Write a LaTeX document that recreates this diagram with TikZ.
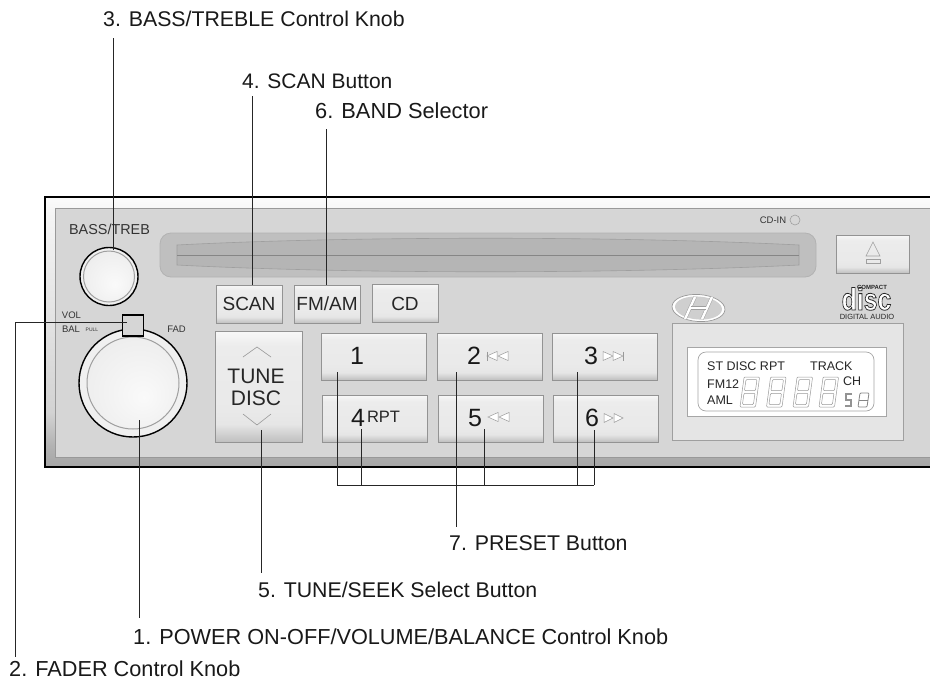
\documentclass[tikz,border=0pt]{standalone}
\usepackage{fontspec}
\setmainfont{Liberation Sans}
\usepackage{graphicx}
\usepackage{tikz}
\usetikzlibrary{arrows.meta,shapes.geometric}
\newcommand{\fs}[1]{\fontsize{#1}{#1}\selectfont}
\pgfdeclareverticalshading{btnshade}{100bp}{color(0bp)=(gray!50); color(25bp)=(gray!50); color(33bp)=(gray!20); color(40bp)=(gray!17); color(68bp)=(gray!15); color(75bp)=(gray!6); color(100bp)=(gray!6)}
\pgfdeclareverticalshading{bandshade}{100bp}{color(0bp)=(gray!70); color(25bp)=(gray!70); color(29bp)=(gray!60); color(35bp)=(gray!35); color(72bp)=(gray!8); color(75bp)=(gray!3); color(100bp)=(gray!3)}
\pgfdeclareradialshading{capshade}{\pgfpoint{6bp}{-8bp}}{color(0bp)=(gray!4); color(30bp)=(gray!14); color(50bp)=(gray!24)}

\begin{document}
\begin{tikzpicture}[
    x=1pt, y=-1pt,
    btn/.style     = {rectangle, draw=gray!85, line width=0.8pt, shading=btnshade, inner sep=0pt, text=black!85},
    lab/.style     = {font=\fs{#1}, text=black!90, inner sep=0pt, text height=15pt, text depth=0pt, anchor=west},
    small/.style   = {font=\fs{9.5}, text=black!80, inner sep=0pt},
    lcdtxt/.style  = {font=\fs{12.5}, text=black!85, inner sep=0pt, anchor=west},
    leader/.style  = {draw=black!85, line width=1pt},
    seg/.style     = {draw=gray!80, line width=0.5pt, rounded corners=1pt},
    tri/.style     = {draw=gray!80, fill=white, line width=0.5pt}
  ]
  \useasboundingbox (0,0) rectangle (930,681);

  % ===== Panel =====
  \fill[white] (0,0) rectangle (930,681);
  \shade[shading=bandshade] (45,197) rectangle (930,467);
  \draw[draw=gray!80, fill=gray!32, line width=0.8pt] (55,208) rectangle (932,457);
  \draw[line width=2pt] (931,197) -- (45,197) -- (45,467) -- (931,467);

  % ===== CD slot =====
  \draw[draw=gray!60, fill=gray!50, line width=0.8pt, rounded corners=11pt] (160,233) rectangle (816,277);
  \draw[draw=gray!75, line width=0.6pt, fill=gray!58] (177,245) .. controls (350,236) and (620,236) .. (799,245)
    -- (799,265) .. controls (620,274) and (350,274) .. (177,265) -- cycle;
  \draw[draw=gray!95, line width=1pt] (177,255) -- (799,255);

  % ===== Knobs =====
  \node[circle, draw=black, line width=1.4pt, fill=gray!12, minimum size=58pt, inner sep=0pt] (knobBass) at (109,276.5) {};
  \node[circle, draw=gray!75, line width=1pt, shading=capshade, minimum size=51pt, inner sep=0pt] (capBass) at (109,276.5) {};
  \node[circle, draw=black, line width=1.4pt, fill=gray!12, minimum size=108pt, inner sep=0pt] (knobVol) at (133,383) {};
  \node[circle, draw=gray!75, line width=1pt, shading=capshade, minimum size=92pt, inner sep=0pt] (capVol) at (133,383) {};
  \node[rectangle, draw=black, line width=1.2pt, fill=gray!32, minimum width=21pt, minimum height=21pt, inner sep=0pt] (sqFader) at (133,325.5) {};

  \node[small, font=\fs{14.4}] (txtBass) at (109.5,229) {BASS/TREB};
  \node[small] (txtVol) at (71.5,315) {VOL};
  \node[small] (txtBal) at (71,329) {BAL};
  \node[small, font=\fs{5}] (txtPull) at (92,330) {PULL};
  \node[small] (txtFad) at (176.5,329) {FAD};
  \node[small] (txtIn) at (773,220) {CD-IN};
  \node[circle, draw=gray!75, line width=0.6pt, minimum size=10pt, inner sep=0pt] (ledIn) at (795,220) {};

  % ===== Buttons =====
  \node[btn, minimum width=66pt, minimum height=38pt, font=\fs{19}] (btnScan) at (249,304) {SCAN};
  \node[btn, minimum width=66pt, minimum height=38pt, font=\fs{19}] (btnBand) at (327,304) {FM/AM};
  \node[btn, minimum width=66pt, minimum height=38pt, font=\fs{19}] (btnCd) at (405,303.5) {CD};
  \node[btn, minimum width=87pt, minimum height=111pt] (btnTune) at (258.5,386.5) {};
  \node[align=center, font=\fs{21}, text=black!85, inner sep=0pt] (txtTune) at (256,387.5) {TUNE\\[1pt]DISC};
  \node[btn, minimum width=73pt, minimum height=38pt] (btnEject) at (872.5,254) {};
  \draw[draw=gray!80, line width=0.6pt] (243,357) -- (257,347) -- (271,357);
  \draw[draw=gray!80, line width=0.6pt] (243,414) -- (257,425) -- (271,414);
  \draw[draw=gray!75, line width=0.6pt] (866,256) -- (873,242) -- (880,256) -- cycle;
  \draw[draw=gray!75, line width=0.6pt] (866,259) rectangle (880,263);

  \foreach \n/\x/\y in {1/373.5/356.5, 2/489.5/356.5, 3/604.5/356.5, 4/374.5/418.5, 5/490.5/418.5, 6/605.5/418.5}{
    \node[btn, minimum width=105pt, minimum height=47pt] (btn\n) at (\x,\y) {};
  }
  \foreach \n/\x/\y in {1/357/356, 2/474/356, 3/591/356, 4/358/418, 5/475/418, 6/592/418}{
    \node[font=\fs{25}, text=black!90, inner sep=0pt] (num\n) at (\x,\y) {\n};
  }
  \node[font=\fs{16.5}, text=black!85, inner sep=0pt] (txtRpt) at (383.5,417) {RPT};

  % track symbols
  \foreach \x in {487,498}{ \draw[tri] (\x,356) -- (\x+10,351.5) -- (\x+10,360.5) -- cycle; }
  \draw[tri] (487,351.5) -- (487,360.5);
  \foreach \x in {603,613}{ \draw[tri] (\x+10,356) -- (\x,351.5) -- (\x,360.5) -- cycle; }
  \draw[tri] (623,351.5) -- (623,360.5);
  \foreach \x in {488,499}{ \draw[tri] (\x,417) -- (\x+10,412.5) -- (\x+10,421.5) -- cycle; }
  \foreach \x in {604,614}{ \draw[tri] (\x+9,418) -- (\x,413.5) -- (\x,422.5) -- cycle; }

  % ===== Display =====
  \node[rectangle, draw=gray!75, line width=0.8pt, fill=gray!20, minimum width=231pt, minimum height=117pt] (lcdFrame) at (787.5,381.5) {};
  \node[rectangle, draw=gray!70, line width=0.8pt, fill=white, minimum width=199pt, minimum height=69pt] (lcdGlass) at (786.5,381.5) {};
  \node[rectangle, draw=gray!70, line width=0.7pt, rounded corners=8pt, minimum width=176pt, minimum height=59pt] (lcdInner) at (786,381.5) {};
  \node[lcdtxt] (lcdDisc) at (707,366.5) {ST DISC RPT};
  \node[lcdtxt] (lcdTrack) at (810,366.5) {TRACK};
  \node[lcdtxt] (lcdCh) at (843,381) {CH};
  \node[lcdtxt] (lcdFm) at (707,384) {FM12};
  \node[lcdtxt] (lcdAm) at (707,400) {AML};
  \foreach \x in {740,766.5,793,819}{
    \begin{scope}[shift={(\x,407)}]
      \draw[seg] (0,0) -- (15.5,0) -- (19.6,-30) -- (4.1,-30) -- cycle;
      \draw[seg] (2.4,-2.5) -- (13.4,-2.5) -- (15,-13.7) -- (4,-13.7) -- cycle;
      \draw[seg] (4.4,-16.3) -- (15.4,-16.3) -- (17,-27.5) -- (6,-27.5) -- cycle;
    \end{scope}
  }
  \begin{scope}[shift={(858,407)}]
    \draw[seg, draw=gray!95, line width=0.8pt] (0,0) -- (9,0) -- (11,-14) -- (2,-14) -- cycle;
    \draw[seg, draw=gray!95, line width=0.8pt] (1,-7) -- (10,-7);
  \end{scope}
  \draw[draw=gray!85, line width=1.2pt] (852,394) -- (846,394) -- (846,400) -- (851,400) -- (851,406) -- (845,406);

  % ===== Logos =====
  \node[ellipse, draw=gray!80, line width=0.7pt, fill=white, minimum width=53pt, minimum height=27pt, inner sep=0pt, rotate=-4] (logoOval) at (698.5,308) {};
  \fill[gray!38, rotate around={-4:(698.5,308)}] (698.5,308) ellipse [x radius=23.5, y radius=11.5];
  \draw[draw=gray!75, double=white, double distance=2.4pt, line width=0.5pt] (685,319) -- (695,297) (702,319) -- (712,297);
  \draw[draw=gray!75, double=white, double distance=2.4pt, line width=0.5pt] (691,308) -- (706,308);

  \node[font=\bfseries\fs{31}, inner sep=0pt, text=white, text height=19pt, text depth=0pt, anchor=base] (discBig) at (866.5,310) {\scalebox{0.8}[1]{\special{pdf:code 2 Tr 0.8 w 0.15 G}disc\special{pdf:code 0 Tr}}};
  \node[font=\bfseries\fs{6}, text=black!85, inner sep=0pt] (discTop) at (872,287.5) {COMPACT};
  \node[font=\fs{7.5}, text=black!85, inner sep=0pt] (discBot) at (867,316.5) {DIGITAL AUDIO};

  % ===== Callouts =====
  \node[lab=21.3] (lab3) at (103,18.5)  {3. BASS/TREBLE Control Knob};
  \node[lab=21]   (lab4) at (242,80.5)  {4. SCAN Button};
  \node[lab=21.8] (lab6) at (315,110.5) {6. BAND Selector};
  \node[lab=21.3] (lab7) at (449,542.5) {7. PRESET Button};
  \node[lab=21.3] (lab5) at (258,589.5) {5. TUNE/SEEK Select Button};
  \node[lab=21.7] (lab1) at (133,636.5) {1. POWER ON-OFF/VOLUME/BALANCE Control Knob};
  \node[lab=21.7] (lab2) at (9,668.5)   {2. FADER Control Knob};

  \coordinate (tip3) at (113.5,250);
  \coordinate (tip4) at (252.5,285);
  \coordinate (tip6) at (326,285);
  \coordinate (tip7) at (456,372);
  \coordinate (tip5) at (261,430);
  \coordinate (tip1) at (139,420);
  \coordinate (tipF) at (127,322);
  \coordinate (cornerF) at (15.5,322);

  \foreach \u/\t/\g in {lab3/tip3/12, lab4/tip4/8, lab6/tip6/11}{
    \draw[leader, shorten <=\g pt] (\u.south -| \t) -- (\t);
  }
  \foreach \u/\t/\g in {lab7/tip7/8, lab5/tip5/9, lab1/tip1/11}{
    \draw[leader, shorten <=\g pt] (\u.north -| \t) -- (\t);
  }
  \draw[leader, shorten >=4pt] (tipF) -- (cornerF) -- (lab2.north -| cornerF);

  % preset bus
  \coordinate (busW) at (337,485);
  \coordinate (busE) at (594,485);
  \draw[leader] (busW) -- (busE);
  \foreach \x/\y in {337/372, 361/429, 484/429, 577/372, 594/430}{
    \coordinate (tipB\x) at (\x,\y);
    \draw[leader] (tipB\x) -- (tipB\x |- busW);
  }
\end{tikzpicture}
\end{document}
